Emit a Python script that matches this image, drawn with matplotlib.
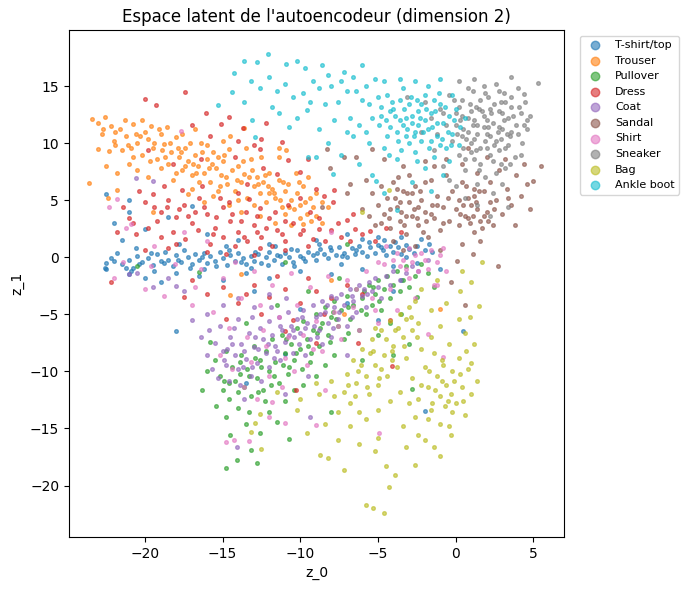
import matplotlib
matplotlib.use("Agg")
import matplotlib.pyplot as plt

class_names = ["T-shirt/top", "Trouser", "Pullover", "Dress", "Coat",
               "Sandal", "Shirt", "Sneaker", "Bag", "Ankle boot"]

tshirt_pts = [(-22.5,-0.5),(-22,-0.3),(-21.5,-0.6),(-21,-0.2),(-20.8,-0.9),(-20.5,0.1),(-20.2,-0.4),(-19.8,-0.1),(-19.5,-0.7),(-19.2,0.3),(-19,-0.3),(-18.7,0.5),(-18.5,-0.2),(-18.2,-0.8),(-18,0.2),(-17.7,-0.4),(-17.5,0.6),(-17.2,0),(-17,-0.6),(-16.8,0.3),(-16.5,-0.2),(-16.2,0.4),(-16,-0.5),(-15.8,0.1),(-15.5,-0.3),(-15.2,0.5),(-15,-0.1),(-14.7,-0.7),(-14.5,0.2),(-14.2,-0.3),(-14,0.4),(-13.7,-0.1),(-13.5,-0.6),(-13.2,0.1),(-13,-0.3),(-12.7,0.3),(-12.5,-0.5),(-12.2,0),(-12,0.5),(-11.7,-0.2),(-11.5,0.2),(-11.2,-0.6),(-11,0.4),(-10.7,0),(-10.5,-0.4),(-10.2,0.6),(-10,0.1),(-9.7,-0.3),(-9.5,0.5),(-9.2,0.2),(-9,-0.2),(-8.7,0.7),(-8.5,0.3),(-8.2,-0.1),(-8,0.6),(-7.7,0.2),(-7.5,0.9),(-7.2,0.4),(-7,0),(-6.7,0.8),(-6.5,0.3),(-6.2,1),(-6,0.5),(-5.7,0.1),(-5.5,0.9),(-5.2,0.4),(-5,1.1),(-4.7,0.6),(-4.5,0.2),(-4.2,1),(-4,0.5),(-3.7,0.9),(-3.5,0.3),(-3.2,1.1),(-3,0.7),(-2.7,0.4),(-2.5,1),(-2,0.6),(-1.7,1.2),(-1.5,0.5),(-21,-1.5),(-20,-1.8),(-19,-2.2),(-18,-1.4),(-16.5,-1.6),(-15,-2),(-13.5,-1.4),(-12,-1.8),(-10,-1.2),(-8,-1.5),(-6,-1),(-4,-0.8),(-22.5,-1),(-21.5,1.5),(-20,2.5),(-21,4),(-22,3),(-18.5,3.5),(-16,2),(-14,1.5),(-12,1.2),(-9,1.5),(-7,2),(-5,1.8),(-3.5,1.8),(-2.5,-0.5),(-4,-3),(-7,-4),(-10,-4.5),(-13,-3),(-18,-6.5),(-21,5),(-22.5,5.5),(-17,4.5),(-3.5,-2),(-1,-1),(-5,-5.5),(-11,-8.5),(-13.5,-11),(0.5,-6.5),(-2,-13.5),(-21.8,0.4),(-20.6,0.8),(-19.4,-1.2),(-17.8,1.2),(-16.2,-1),(-14.8,1),(-13.2,-0.9),(-11.6,1),(-10.4,-0.8),(-8.8,1.2),(-7.4,-0.6),(-6,1.6),(-4.6,1.5),(-3.2,0),(-2.2,1.6),(-22.6,-0.9),
    (-21.2,-0.9),(-20.4,-0.6),(-19.6,0.4),(-18.8,-0.5),(-17.9,-0.2),(-17.1,-0.9),(-16.3,0),(-15.4,-0.8),(-14.6,0.6),(-13.8,-0.4),(-12.9,0.5),(-12.1,-0.7),(-11.3,0.1),(-10.6,0.7),(-9.8,-0.1),(-8.9,0.4),(-8.1,0.9),(-7.3,0.1),(-6.4,0.6),(-5.6,1.3),(-4.8,0.9),(-3.9,1.3),(-22.2,-0.1),(-20.9,-1.2)]

trouser_pts = [(-23.4,12.1),(-23,11.8),(-22.6,12.3),(-22.2,11.5),(-22.8,10.8),(-22,10.2),(-21.6,11.2),(-21.2,10.6),(-21.5,9.4),(-20.8,11.7),(-20.5,10),(-20.2,9),(-20,11),(-19.8,10.4),(-19.5,9.6),(-19.2,8.6),(-19,10.8),(-18.8,9.9),(-18.5,8.2),(-18.3,9.2),(-18,10.5),(-17.8,8.8),(-17.6,7.6),(-17.4,9.6),(-17.2,8.4),(-17,7.2),(-16.8,9),(-16.6,8),(-16.4,10),(-16.2,7.4),(-16,8.6),(-15.8,6.6),(-15.6,9.2),(-15.4,7.8),(-15.2,6.2),(-15,8.4),(-14.8,7),(-14.6,9.5),(-14.4,7.6),(-14.2,5.8),(-14,8),(-13.8,6.6),(-13.6,7.3),(-13.4,5.2),(-13.2,8.6),(-13,6.2),(-12.8,7),(-12.6,5.6),(-12.4,6.6),(-12.2,4.8),(-12,7.4),(-11.8,6),(-11.6,5.2),(-11.4,6.8),(-11.2,4.4),(-11,5.8),(-10.8,6.4),(-10.6,5),(-10.4,4.2),(-10.2,5.6),(-10,4.6),(-9.8,6.2),(-9.6,3.8),(-9.4,5.2),(-9.2,4.4),(-9,5.6),(-8.6,4.8),(-22.5,8),(-21.8,7.4),(-21,8.2),(-20.5,7.6),(-19.8,7),(-22.3,9.3),(-21.3,12),(-20.2,12),(-19.6,11.5),(-18.6,11.4),(-17.6,10.8),(-16.8,11.2),(-20.8,8.8),(-18.2,6.8),(-17,6),(-15.6,5.4),(-14.6,4.6),(-13.8,4),(-12.6,3.6),(-11.6,3),(-10.6,2.8),(-9.8,2.9),(-22.4,5.2),(-21.8,5.9),(-19.5,4),(-16.2,4.8),(-14.5,10.6),(-13.5,9.6),(-12.5,8.8),(-11.4,9.6),(-10.9,9.4),(-11.4,8.8),(-19,7.8),(-18,7.4),(-17.2,5.5),(-16.5,6.6),(-15.3,5.8),(-14,5),(-13,4.6),(-12,5.6),(-11,3.8),(-10,3.4),(-9,3.6),(-8.6,3),(-8.2,4.4),(-16,9.8),(-15,10.2),(-13.6,11.3),(-20.6,10.8),(-21.9,9.8),(-23,9.5),(-23.6,6.5),(-10.3,7.4),(-9.5,7),(-13.8,-1.5),(-14.5,-3.3),(-7.2,-5),(-8,-2),(-1,-4.5),(-19.4,10),(-18.4,10),(-17.4,8),(-16.3,9.2),(-15.1,7.2),(-14.1,6.8),(-13.1,7.6),(-12.1,6.2),(-11.1,6.6),(-18.9,9.4),(-17.9,9.6),(-16.9,8.2),(-15.9,7.8),(-14.9,9),
    (-22.7,11.2),(-21.9,11),(-21.1,9.8),(-20.3,10.6),(-19.7,8.4),(-18.7,8.8),(-17.7,9.2),(-16.7,7.4),(-15.7,8.2),(-14.7,6.4),(-13.7,8.4),(-12.7,6.4),(-11.7,5.6),(-10.7,4.4),(-9.7,4.8),(-20.9,9.6),(-19.1,11.2),(-17.1,10),(-15.3,8.8),(-13.3,7),(-12.3,7.2),(-11.3,5),(-10.1,6.6),(-9.3,3.2)]

pullover_pts = [(-15.5,-9),(-15.2,-10.4),(-15,-11.6),(-14.8,-8.2),(-14.6,-12.4),(-14.4,-9.6),(-14.2,-10.8),(-14,-13.2),(-13.8,-8.6),(-13.6,-11.4),(-13.4,-9.8),(-13.2,-12.2),(-13,-7.8),(-12.8,-10.6),(-12.6,-9),(-12.4,-11.6),(-12.2,-8.2),(-12,-10),(-11.8,-7.2),(-11.6,-9.2),(-11.4,-11),(-11.2,-6.8),(-11,-8.4),(-10.8,-10.2),(-10.6,-7.6),(-10.4,-9),(-10.2,-6.2),(-10,-8),(-9.8,-5.6),(-9.6,-7.2),(-9.4,-9.2),(-9.2,-6.4),(-9,-5),(-8.8,-7.8),(-8.6,-5.8),(-8.4,-4.4),(-8.2,-6.8),(-8,-5.2),(-7.8,-3.8),(-7.6,-6),(-7.4,-4.6),(-7.2,-7.2),(-7,-3.4),(-6.8,-5.4),(-6.6,-4.2),(-6.4,-2.8),(-6.2,-6.4),(-6,-3.6),(-5.8,-5),(-5.6,-2.4),(-5.4,-4.2),(-5.2,-3.2),(-5,-2),(-4.8,-4.6),(-4.6,-2.8),(-4.4,-1.6),(-4.2,-3.6),(-4,-2.4),(-3.8,-1.2),(-3.6,-3),(-3.4,-2),(-3.2,-0.8),(-3,-2.6),(-2.6,-1.6),(-2.2,-0.6),(-1.8,-1.4),(-14.8,-18.5),(-14.1,-17.8),(-13.2,-16.9),(-14.5,-15.6),(-13.5,-14.6),(-12.6,-15.4),(-14.8,-14),(-15.4,-13),(-16,-10),(-16.3,-11.6),(-12,-13.6),(-11,-12.6),(-10.4,-11.6),(-9.8,-11.2),(-9,-10.4),(-8.4,-9.4),(-7.8,-8.6),(-11.5,-14.4),(-13.5,-5.8),(-11.5,-4.2),(-9.5,-3),(-7.5,-1.8),(-15.8,-7.4),(-4,-8.6),(-3,-7.6),(-6,-9),(-12.8,-18),(-10.7,-15.9),(-8,-13.6),(-2.5,-3.5),(-1.4,-2.6),(-2.8,-11.5),(-20.5,-0.8),(-16.5,-1.3),(-11,-0.4),(-7,1.2),(-3.5,-5),(-13.9,-10.2),(-12.9,-8.8),(-11.9,-11.2),(-10.9,-7.2),(-9.9,-9.8),(-8.9,-6.6),(-7.9,-4.8),(-6.9,-6.6),(-5.9,-3),(-4.9,-3.8),(-14.9,-10.8),(-13.3,-13.6),(-12.3,-12.6),(-5,-6.8),(-4.2,-5.8),
    (-14,-11.8),(-13.3,-10.4),(-12.5,-9.6),(-11.7,-10.4),(-11.1,-9.4),(-10.3,-8.4),(-9.5,-7.8),(-8.7,-6.2),(-7.7,-5.4),(-6.9,-4.4),(-6.1,-4.6),(-5.3,-2.6),(-14.6,-11),(-13.9,-9.2),(-12.7,-11.8),(-10.7,-9.6),(-9.3,-8.4),(-8.1,-7.4)]

dress_pts = [(-20,13.9),(-17.4,14.5),(-19.3,13.3),(-16.1,12.6),(-15.1,11.7),(-13.7,11.3),(-14.6,12.3),(-12.6,9.5),(-12.2,11.8),(-12.5,10.4),(-11.2,10.1),(-13,9.8),(-15.8,10.6),(-17,11.6),(-14,10.2),(-10.8,8.5),(-9.5,8.6),(-10,7.5),(-11.5,7.3),(-9,6),(-8.5,5.4),(-7.9,4.8),(-7.8,5.9),(-6.6,3.8),(-7,3.3),(-5.5,2.3),(-6.5,2.5),(-8.8,2.5),(-9.2,1.6),(-20,4.8),(-19.5,5.5),(-19,4),(-18.5,5),(-18,3.5),(-17.5,4.6),(-17,3),(-16.5,5.2),(-16,3.8),(-15.5,2.6),(-15,4.4),(-14.5,3.2),(-14,2.2),(-13.5,4),(-13,2.8),(-12.5,1.8),(-12,3.4),(-11.5,2.4),(-11,1.4),(-10.5,3),(-10,2),(-9.5,1),(-19.8,2.6),(-19,1.8),(-18.2,2.2),(-17.4,1.6),(-16.6,2.4),(-15.8,1.2),(-15,1.8),(-14.2,1),(-13.4,1.4),(-12.6,0.8),(-11.8,1),(-11,0.6),(-21,3.4),(-20.6,2),(-21.4,4.4),(-20.4,5.8),(-18.8,6.2),(-17.6,5.9),(-16.3,6.2),(-15.2,5.2),(-14,5.6),(-13.3,5.1),(-12.6,4.3),(-11.6,4),(-10.8,4.6),(-10,5.2),(-9.4,4),(-8.8,3.4),(-8,2.4),(-7.4,1.8),(-6.8,1.4),(-6,2),(-5.2,1.4),(-4.5,2.6),(-3.5,2.2),(-16,0.5),(-14.8,0.3),(-13,0.2),(-18.5,0.8),(-20,0.6),(-21.8,2.2),(-17.2,3.6),(-15.4,3.5),(-13.8,3.2),(-12.2,2.6),(-19.2,3.2),(-13,-2.4),(-12,-3.5),(-11,-2.8),(-10,-4),(-9,-3),(-8,-3.6),(-14,-4),(-12.5,-5),(-10.5,-5.5),(-15,-2.6),(-16,-3.2),(-17,-2),(-11.5,-1.6),(-9.5,-1.8),(-7,-2.4),(-6,-3.2),(-8.5,-5),(-13.5,-3.2),(-9,-7.5),(-11,-6.5),(-17.5,-3.5),(-14.8,-5.4),(-6.3,-7.5),(-4.2,-5.5),(-4.1,-9.5),(-10.3,-11.6),(-22.2,-2.2),(-20.8,3),(-18.6,4.4),(-16.8,4),(-14.6,4.8),(-12.8,3.6),(-11.2,2),(-9.8,2.4),(-8.4,1.4),(-7.6,3),(-18.2,8.2),(-19.8,9.4),(-16.4,8.6),(-14.2,8.8),(-12.4,7.8),(-13.4,6.4),
    (-19.4,4.4),(-17.8,4.2),(-16.2,4.4),(-14.4,3.8),(-12.8,2.2),(-11,3.2),(-18,1.2),(-15.6,2),(-13.6,1.8)]

coat_pts = [(-15.5,-7.5),(-15,-8.2),(-14.8,-9.4),(-14.5,-7),(-14.2,-8.6),(-14,-9.8),(-13.8,-7.6),(-13.5,-8.9),(-13.3,-6.6),(-13,-7.9),(-12.8,-9.3),(-12.6,-6.2),(-12.4,-7.2),(-12.2,-8.4),(-12,-5.6),(-11.8,-6.8),(-11.6,-7.8),(-11.4,-5.2),(-11.2,-6.4),(-11,-7.4),(-10.8,-4.8),(-10.6,-6),(-10.4,-7),(-10.2,-5.4),(-10,-6.6),(-9.8,-4.6),(-9.6,-5.8),(-9.4,-7.2),(-9.2,-4.2),(-9,-5.2),(-8.8,-6.4),(-8.6,-3.8),(-8.4,-4.8),(-8.2,-5.8),(-8,-3.4),(-7.8,-4.4),(-7.6,-5.4),(-7.4,-3.2),(-7.2,-4.2),(-7,-6),(-6.8,-2.8),(-6.6,-3.8),(-6.4,-4.8),(-6.2,-2.4),(-6,-3.4),(-5.8,-4.4),(-5.6,-2.2),(-5.4,-3),(-5.2,-1.8),(-5,-2.6),(-4.8,-3.6),(-4.5,-1.6),(-4.2,-2.4),(-4,-1.2),(-3.6,-2),(-3.2,-1.4),(-2.8,-0.8),(-2.4,-1.2),(-16,-8.6),(-15.7,-9.8),(-15.3,-10.6),(-14.6,-10.8),(-13.9,-11.2),(-13.2,-10.4),(-12.5,-10.8),(-12,-9.6),(-11.3,-9),(-10.5,-8.4),(-9.7,-8.6),(-8.6,-7.6),(-8,-7),(-16.4,-7),(-17,-5.5),(-16,-5),(-15,-4.2),(-14,-3.6),(-13,-4.4),(-12,-3.2),(-17.5,-3),(-18.5,-1.8),(-19.5,-2.6),(-20.5,-1.4),(-14,-5.4),(-15.2,-6),(-13.6,-12.4),(-11,-12),(-9.5,-10.4),(-7,-8.6),(-14.1,-16.6),(-9.4,-14),(-18,-2.5),(-21,-1.5),(-20.6,6.9),(-19.5,6.7),(-14.7,-8),(-13.7,-9.6),(-12.7,-8),(-11.7,-8.8),(-10.7,-6.8),(-9.7,-6.2),(-8.7,-5),(-7.7,-3.6),(-6.7,-5.2),(-5.7,-3.2),(-15.9,-6.4),(-14.3,-6.2),(-13.1,-5.2),(-11.9,-4.4),(-10.9,-3.6),(-1.8,-0.2),
    (-14.4,-7.6),(-13.6,-8.2),(-12.9,-7),(-12.1,-7.6),(-11.3,-6),(-10.5,-6.4),(-9.9,-5.2),(-9.1,-6),(-8.3,-4.2),(-7.5,-4.8),(-6.7,-3.4),(-5.9,-2.8),(-14.9,-9),(-13.1,-9.6),(-11.5,-8.2),(-10.1,-7.6),(-8.9,-7),(-7.9,-6.2)]

sandal_pts = [(-5.8,6.8),(-5.4,5.6),(-5,4.6),(-4.8,6.2),(-4.6,3.8),(-4.4,5.2),(-4.2,2.6),(-4,6.6),(-3.8,4.4),(-3.6,3.2),(-3.4,5.8),(-3.2,2),(-3,4.8),(-2.8,3.6),(-2.6,6.2),(-2.4,2.8),(-2.2,5),(-2,4),(-1.8,1.8),(-1.6,6.8),(-1.4,3.4),(-1.2,5.4),(-1,2.4),(-0.8,4.4),(-0.6,7.2),(-0.4,3.2),(-0.2,5.8),(0,4.2),(0.2,2.8),(0.4,6.6),(0.6,3.6),(0.8,5.2),(1,4.6),(1.2,2.2),(1.4,7.4),(1.6,3.2),(1.8,5.8),(2,4),(2.2,6.6),(2.4,2.8),(2.6,5),(2.8,7.6),(3,3.8),(3.3,6),(3.6,4.6),(3.9,7.2),(4.2,5.4),(4.6,6.4),(5,6.7),(5.5,8),(4.8,4.2),(4.4,8.2),(3.8,2.8),(3.2,8.6),(2,8.8),(0.8,9.6),(-0.6,8.6),(-2,8.4),(-3.4,8),(-4.6,8.6),(-5.4,9.5),(-6.4,8.8),(-7.2,8.8),(-8.1,7.8),(-8.3,9.5),(-6.8,6.4),(-6,4.2),(-5.2,2.8),(-4,1.4),(-2.6,1),(-1,0.6),(0.1,-0.3),(1.1,0.3),(2.7,-0.8),(-0.3,-2.2),(0.6,-4.2),(0.4,1.2),(1.6,1.4),(-3,7.2),(-1.4,8),(0.4,8.2),(1.2,6),(-2.8,5.6),(-3.8,6),(-4.8,3),(-5.6,3.6),(-3.4,0.6),(-7,5.6),(-8.6,4.4),(-3.6,4.8),(-3.2,3.6),(-2.4,4.4),(-1.6,3.8),(-0.8,3),(0.2,5),(1.4,4.2),(1.8,3.6),(2.2,4.8),(0.8,3.4),(-2,6.6),(-4.2,4.2),(-1.2,4.6),(1.2,5.4),
    (-3.9,5.2),(-3.5,4),(-3.1,5.6),(-2.7,4.2),(-2.3,5.8),(-1.9,3.2),(-3.3,2.8),(-2.5,3.4),(-4.3,3.4),(-1.5,4.6),(0.5,4.6),(0.9,3),(1.3,4.8),(1.7,2.6),(0.3,3.8),(1.1,3.6),(1.5,5.8),(0.7,6.2),(2.1,3.2),(-0.5,5.2),(-3.7,7),(-2.1,2.2),(2.5,4.2),(3.4,5.2)]

shirt_pts = [(-22,-1.8),(-21.2,2.6),(-20,-2.8),(-19.4,1),(-18.8,-3.4),(-18.1,-0.6),(-17.5,2.2),(-17,-4.2),(-16.4,-1),(-16,1.4),(-15.6,-4.8),(-15,-1.8),(-14.6,-6.2),(-14.2,-0.4),(-13.8,-3.6),(-13.4,-7),(-13,-1.2),(-12.6,-4.2),(-12.2,-7.8),(-11.8,-2.4),(-11.4,-5.2),(-11,-8.8),(-10.6,-1.4),(-10.2,-4.2),(-9.8,-6.8),(-9.4,-2.6),(-9,-5.6),(-8.6,-8.2),(-8.2,-1.6),(-7.8,-4.8),(-7.4,-7.2),(-7,-2),(-6.6,-4.4),(-6.2,-6.4),(-5.8,-1.2),(-5.4,-3.6),(-5,-5.8),(-4.6,-0.6),(-4.2,-2.8),(-3.8,-4.6),(-3.4,-0.2),(-3,-1.8),(-2.6,-3.6),(-2.2,0.4),(-1.8,-1),(-1.4,-2.4),(-1,0.2),(-0.6,-1.2),(-2,-0.2),(-3,0.8),(-4.5,1),(-15.2,-8.6),(-14.4,-9.8),(-13.6,-11.4),(-12.8,-12.4),(-12,-10.4),(-11.2,-11.4),(-10.4,-10),(-9.6,-9.4),(-14.8,-16.2),(-14.3,-16),(-13.3,-16.1),(-11,-14.5),(-11.8,-12.7),(-9,-14.7),(-4.9,-15.4),(-1.2,-2.4),(-0.8,-8.7),(-1.8,-6.7),(-22.3,4.4),(-21.8,5.1),(-20.9,2.9),(-17.7,11.1),(-3.6,-0.8),(-2.8,-0.4),(-2.4,-1.2),(-1.6,0.6),(-3.2,-1),(-4,-0.2),(-1.2,-0.4),(-2.6,0.2),(-0.8,0.8),(-3.8,0.4),(-13.2,-9.2),(-12.4,-6.4),(-10.8,-7),(-9.2,-8),(-7.6,-6),(-6.4,-2.8),(-5.2,-4.6),(-12,-14),(-8.4,-11.6),(-16.8,-2.6),(-19.6,-0.8),(-21.4,-0.4),(-8,2.2),(-5,-0.4)]

sneaker_pts = [(-1,13),(-0.6,11.6),(-0.4,14.2),(-0.2,10.2),(0,12.6),(0.2,9),(0.4,13.8),(0.5,11.2),(0.6,7.6),(0.8,12.2),(1,10),(1.1,14.6),(1.2,8.6),(1.4,11.6),(1.5,13),(1.6,9.6),(1.8,12.4),(1.9,7),(2,10.8),(2.1,14),(2.2,9),(2.4,11.8),(2.5,13.4),(2.6,10.2),(2.8,12.8),(2.9,8.2),(3,11.2),(3.1,14.4),(3.2,9.6),(3.4,12.2),(3.5,10.6),(3.6,13.2),(3.8,8.8),(3.9,11.6),(4,14.8),(4.2,12.6),(4.3,10),(4.5,13.6),(4.6,11.2),(4.8,12.4),(5.3,15.3),(4.4,14.3),(0.2,15.4),(1.2,15.6),(2.6,15.2),(3.6,15.8),(-1.6,12.2),(-2.2,11),(-1.4,9.4),(-0.8,8),(0,6.2),(0.6,5.2),(1.4,4.6),(2.4,5.6),(3,6.4),(3.4,4.4),(2.2,3.6),(1.4,6.4),(-0.4,6.8),(-3.1,14),(-2,13.6),(0.8,14.8),(1.8,15),(2.8,14.6),(3.6,14),(0,11.6),(1,12.8),(2,12),(3,12.6),(1.2,10.4),(2.2,10.6),(1.6,8.2),(2.6,7.4),(0.4,10.6),(1,9.2),(3.2,7.8),(4.2,9),(-0.8,12.6),(0.8,11),(1.8,11.4),(2.8,11.4),(1.2,12),(2.2,13),(0.4,12.4),(1.6,13.8),(3.6,11),(4,10.8),(0.6,8.6),(2,9.6),(2.8,9.4),(3.4,9.8),(-1.2,10.8),(0.2,13.2),(1.4,10.8),(2.4,8.4),(3.2,13.6),(4.6,12),
    (0.3,12),(0.7,10.4),(0.9,13.4),(1.3,9.4),(1.7,12.8),(1.9,10.2),(2.3,12.6),(2.7,11),(2.9,13.6),(3.3,10.8),(3.7,12.4),(4.1,13.2),(0.5,9.6),(1.5,7.6),(2.5,9.8),(3.5,8.2),(4.4,11.6),(1.1,11.6),(2.1,11.4),(3.1,12),(0.1,10.8),(-0.1,13.8),(1.9,14.4),(2.9,10.4),(1.3,13.2)]

bag_pts = [(-7.2,-11.8),(-7,-10.2),(-6.8,-12.8),(-6.6,-9),(-6.4,-11),(-6.2,-13.6),(-6,-8),(-5.8,-10.4),(-5.6,-12),(-5.4,-7.2),(-5.2,-9.4),(-5,-11.2),(-4.8,-6.4),(-4.6,-8.6),(-4.4,-10.4),(-4.2,-5.6),(-4,-7.8),(-3.8,-9.6),(-3.6,-5),(-3.4,-7),(-3.2,-8.8),(-3,-4.4),(-2.8,-6.4),(-2.6,-3.8),(-2.4,-5.8),(-2.2,-8),(-7.6,-13.6),(-7.8,-12.2),(-8,-10.8),(-8.4,-14.6),(-6.8,-14.8),(-5.8,-14.2),(-5,-13.4),(-4.2,-12.6),(-3.6,-11.8),(-8.7,-17.3),(-7.2,-18.6),(-8.2,-17.6),(-12.6,-13.7),(-12.9,-14.5),(-13.2,-15.3),(-9.6,-15.4),(-10.2,-13.4),(-8.8,-12),(-7.6,-16),(-6.2,-16.4),(-5,-15.8),(-4.5,-18.3),(-4.3,-20.1),(-3.9,-19.1),(-4.6,-22.4),(-5.8,-21.7),(-5.3,-22),(-2.6,-18.2),(-3.2,-16.6),(-2,-16),(-1,-17.4),(-0.4,-14.8),(-2.8,-10.6),(-2.4,-12.4),(-2,-9.6),(-1.8,-11.4),(-1.6,-13.4),(-1.4,-8.4),(-1.2,-10.4),(-1,-12.2),(-0.8,-9.4),(-0.6,-11.2),(-0.4,-7.6),(-0.2,-10),(0,-12.8),(0.2,-8.8),(0.4,-11.4),(0.6,-6.6),(0.8,-9.8),(1,-12),(-1.8,-14.2),(-1,-14.6),(-0.2,-13.6),(0.6,-13.8),(-2.6,-14),(-3,-12.8),(1,-9.3),(0.9,-5.2),(1.5,-4.3),(0.3,-3),(1,-2.2),(1.7,-0.4),(-1,-6),(-1.6,-4.6),(-0.6,-4),(0.2,-5.4),(-2.2,-2.8),(-1.2,-2),(0.4,-1.2),(1.2,-7.6),(1.4,-10.8),(-1.6,-7),(-2.4,-15.6),(-1.4,-16.6),(-3.4,-14.8),(-5.2,-17),(-6,4),(-4.3,5.9),(-11.5,-11.8),(-10,-12.4),(-9,-11),(-12.5,-16.8),(-5.5,-8.4),(-4.8,-9.8),(-3.9,-6.4),(-3.2,-5.4),(-6.3,-10),(-5.2,-6.2),(-4.1,-8.2),(-0.9,-10.8),(-0.3,-12),(0.3,-10.2),(-1.5,-12.8),(-0.7,-13),(-2.2,-11.2),
    (-6.9,-11.2),(-6.5,-12.2),(-6.1,-9.4),(-5.7,-11.4),(-5.3,-8.2),(-4.9,-10.6),(-4.5,-7.2),(-4.1,-9),(-3.7,-6.2),(-3.3,-7.8),(-2.9,-5.2),(-2.5,-7),(-1.3,-11.6),(-0.9,-9),(-0.5,-12.6),(-0.1,-10.8),(0.5,-12.6),(-1.7,-10),(0.7,-8.2),(-0.3,-15.6)]

ankle_pts = [(-14.3,16.1),(-13.6,17.2),(-12.1,17.8),(-12.8,17.1),(-14.4,14.5),(-13.6,13.6),(-13.1,12),(-15.3,13.3),(-10.2,17.2),(-9.7,16.6),(-10.9,16.9),(-11.5,14.6),(-10.5,14),(-9.6,12.9),(-10.7,11.4),(-9.5,8.8),(-9,8.8),(-7.9,7.3),(-12,15.8),(-11,15.2),(-12.6,14.8),(-13.2,15.4),(-9.2,15.4),(-8.6,16.8),(-8,15),(-7.6,13.6),(-7.2,16.2),(-6.8,12.2),(-6.4,14.6),(-6,16.8),(-5.8,11),(-5.6,13.4),(-5.2,15.6),(-4.8,12.4),(-4.6,9.6),(-4.4,14.2),(-4.2,11.4),(-4,13),(-3.8,8.6),(-3.6,12),(-3.4,14.8),(-3.2,10.6),(-3,13.4),(-2.8,11.8),(-2.6,9.2),(-2.4,12.8),(-2.2,10.2),(-2,14.2),(-1.8,11.2),(-1.6,12.6),(-1.4,8.8),(-1.2,10.6),(-1,13.4),(-0.8,11.8),(-0.6,9.6),(-0.4,12.4),(-0.2,10.8),(0,13),(0.3,11.4),(0.6,12.2),(-8.8,11.2),(-8.2,10),(-7.4,9),(-6.6,10.6),(-6.2,8.2),(-5.4,7.2),(-5.1,6.7),(-3.8,4.1),(-4.6,5.6),(-2.8,6.6),(-2,7.8),(-1.6,5.8),(-0.8,7.2),(-3.6,15.6),(-2.6,15.4),(-1.8,15),(-1,15.6),(-5,14),(-4.2,12.8),(-3.4,11.6),(-2.6,11),(-2.8,12.4),(-3.6,13.8),(-4.4,10.6),(-2,12),(-1.2,11.8),(-1.4,13.8),(-2.2,13.4),(-3,10),(-0.2,14.2),(-7,14.6),(-8.4,13.4),(-9.8,14.4),(-11.8,13.2),(-12.9,10.5),(-3.2,12.2),(-2.4,11.6),(-1.6,10.2),(-3.8,11),(-4.8,13.2),(-5.4,12.2),(-6,13.8),(-7.8,12),(-8.8,14.8),(-1,9.8),(-0.4,8.4),(0.2,9.8),
    (-4.9,11.6),(-4.5,12),(-4.1,13.6),(-3.9,12.4),(-3.7,10.2),(-3.3,13),(-3.1,11.2),(-2.9,14),(-2.7,10.6),(-2.5,13.8),(-2.3,12.2),(-2.1,11),(-1.9,13),(-1.7,9.6),(-1.5,11.4),(-1.3,12.8),(-1.1,14.4),(-0.9,10.4),(-0.7,13.2),(-0.5,11),(-0.3,9.8),(-0.1,12),(-4.3,9),(-3.5,9.4),(-2.5,8.4),(-5.6,10),(-6.2,11.6),(-7,11),(-7.4,15.4),(-6.6,15.8),(-5.8,15),(-4.6,15.4),(-8.2,16),(-9.4,13.6),(-10.2,12.2),(-11.4,12.6)]

all_pts = [tshirt_pts, trouser_pts, pullover_pts, dress_pts, coat_pts,
           sandal_pts, shirt_pts, sneaker_pts, bag_pts, ankle_pts]

colors = plt.get_cmap("tab10").colors

fig, ax = plt.subplots(figsize=(6.89, 5.90), dpi=100)
for i, (name, pts) in enumerate(zip(class_names, all_pts)):
    xs = [p[0] for p in pts]
    ys = [p[1] for p in pts]
    ax.scatter(xs, ys, s=7, alpha=0.6, color=colors[i], label=name)

ax.set_xlim(-24.9, 7.0)
ax.set_ylim(-24.5, 19.9)
ax.set_title("Espace latent de l'autoencodeur (dimension 2)")
ax.set_xlabel("z_0")
ax.set_ylabel("z_1")
ax.legend(loc="upper left", bbox_to_anchor=(1.02, 1.0), fontsize=8, markerscale=2.3)
fig.subplots_adjust(left=0.100, right=0.819, top=0.949, bottom=0.090)
fig.savefig("out.png", dpi=100)
